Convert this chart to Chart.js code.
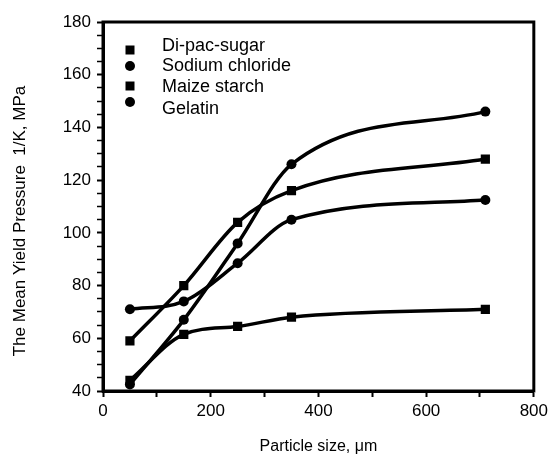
<!DOCTYPE html>
<html>
<head>
<meta charset="utf-8">
<script src="https://cdn.jsdelivr.net/npm/chart.js@4.4.0/dist/chart.umd.min.js"></script>
<style>
html, body { margin: 0; padding: 0; background: #fff; }
</style>
</head>
<body>
<canvas id="yieldChart" width="552" height="460"></canvas>
<script>
// particle size (um) vs mean yield pressure (MPa)
var particleSize = [50, 150, 250, 350, 710];
var diPacSugar = [59, 80, 104, 116, 128];
var sodiumChloride = [71, 74, 88.5, 105, 112.5];
var maizeStarch = [44, 61.5, 64.5, 68, 71];
var gelatin = [42.5, 67, 96, 126, 146];

var seriesNames = ['Di-pac-sugar', 'Sodium chloride', 'Maize starch', 'Gelatin'];
var seriesMarkers = ['rect', 'circle', 'rect', 'circle'];
var xTickLabels = [0, 200, 400, 600, 800];
var yTickLabels = [40, 60, 80, 100, 120, 140, 160, 180];

var FONT = '"Liberation Sans", Arial, sans-serif';

function toPoints(ys) {
    return ys.map(function(y, i) { return { x: particleSize[i], y: y }; });
}

function makeSet(name, ys, marker) {
    return {
        label: name,
        data: toPoints(ys),
        borderColor: '#000',
        backgroundColor: '#000',
        borderWidth: 3.5,
        pointStyle: marker,
        pointRadius: marker == 'rect' ? 6.5 : 5,
        pointBorderWidth: 0,
        cubicInterpolationMode: 'monotone',
        fill: false
    };
}

// box around the plot
var framePlugin = {
    id: 'frame',
    afterDraw: function(chart) {
        var a = chart.chartArea, ctx = chart.ctx;
        ctx.save();
        ctx.strokeStyle = '#000';
        ctx.lineWidth = 3;
        ctx.strokeRect(a.left, a.top, a.right - a.left, a.bottom - a.top);
        ctx.restore();
    }
};

// y title sits a bit below the middle of the axis
var yTitlePlugin = {
    id: 'yTitle',
    afterDraw: function(chart) {
        var ctx = chart.ctx;
        ctx.save();
        ctx.translate(20, 221);
        ctx.rotate(-Math.PI / 2);
        ctx.fillStyle = '#000';
        ctx.font = '17px ' + FONT;
        ctx.textAlign = 'center';
        ctx.textBaseline = 'middle';
        ctx.fillText('The Mean Yield Pressure  1/K, MPa', 0, 0);
        ctx.restore();
    }
};

// legend drawn inside the plot, marker then name
var insideLegend = {
    id: 'insideLegend',
    afterDraw: function(chart) {
        var ctx = chart.ctx;
        var rows = [50, 66, 86, 102];
        var textRows = [46, 66, 87, 109];
        ctx.save();
        ctx.fillStyle = '#000';
        ctx.font = '18px ' + FONT;
        ctx.textBaseline = 'middle';
        chart.data.datasets.forEach(function(ds, i) {
            var cx = 130, cy = rows[i];
            ctx.beginPath();
            if (ds.pointStyle == 'rect') {
                ctx.rect(cx - 4.5, cy - 4.5, 9, 9);
            } else {
                ctx.arc(cx, cy, 5, 0, Math.PI * 2);
            }
            ctx.fill();
            ctx.fillText(ds.label, 162, textRows[i]);
        });
        ctx.restore();
    }
};

var ctx = document.getElementById('yieldChart').getContext('2d');
var yieldChart = new Chart(ctx, {
    type: 'line',
    data: {
        datasets: [
            makeSet(seriesNames[0], diPacSugar, seriesMarkers[0]),
            makeSet(seriesNames[1], sodiumChloride, seriesMarkers[1]),
            makeSet(seriesNames[2], maizeStarch, seriesMarkers[2]),
            makeSet(seriesNames[3], gelatin, seriesMarkers[3])
        ]
    },
    options: {
        responsive: false,
        animation: false,
        layout: { padding: { top: 22, right: 18, left: 0, bottom: 0 } },
        plugins: {
            legend: { display: false },
            tooltip: { enabled: false }
        },
        scales: {
            x: {
                type: 'linear',
                min: 0,
                max: 800,
                afterFit: function(scale) { scale.height = 69; },
                border: { display: true, color: '#000', width: 3 },
                grid: { drawOnChartArea: false, drawTicks: true, tickLength: 6, tickColor: '#000', tickWidth: 2 },
                ticks: {
                    stepSize: 100,
                    autoSkip: false,
                    maxRotation: 0,
                    color: '#000',
                    font: { family: FONT, size: 17 },
                    padding: 4,
                    callback: function(v) { return xTickLabels.indexOf(v) >= 0 ? v : ''; }
                },
                title: {
                    display: true,
                    text: 'Particle size, \u03bcm',
                    color: '#000',
                    font: { family: FONT, size: 16 },
                    padding: { top: 4 }
                }
            },
            y: {
                min: 40,
                max: 180,
                afterFit: function(scale) { scale.width = 103; },
                border: { display: true, color: '#000', width: 3 },
                grid: {
                    drawOnChartArea: false,
                    drawTicks: true,
                    tickLength: 6,
                    tickColor: '#000',
                    tickWidth: function(c) { return c.tick && c.tick.value % 20 === 0 ? 2 : 1.5; }
                },
                ticks: {
                    stepSize: 5,
                    autoSkip: false,
                    color: '#000',
                    font: { family: FONT, size: 17 },
                    padding: 6,
                    callback: function(v) { return yTickLabels.indexOf(v) >= 0 ? v : ''; }
                },
                title: { display: false }
            }
        }
    },
    plugins: [framePlugin, yTitlePlugin, insideLegend]
});
</script>
</body>
</html>
